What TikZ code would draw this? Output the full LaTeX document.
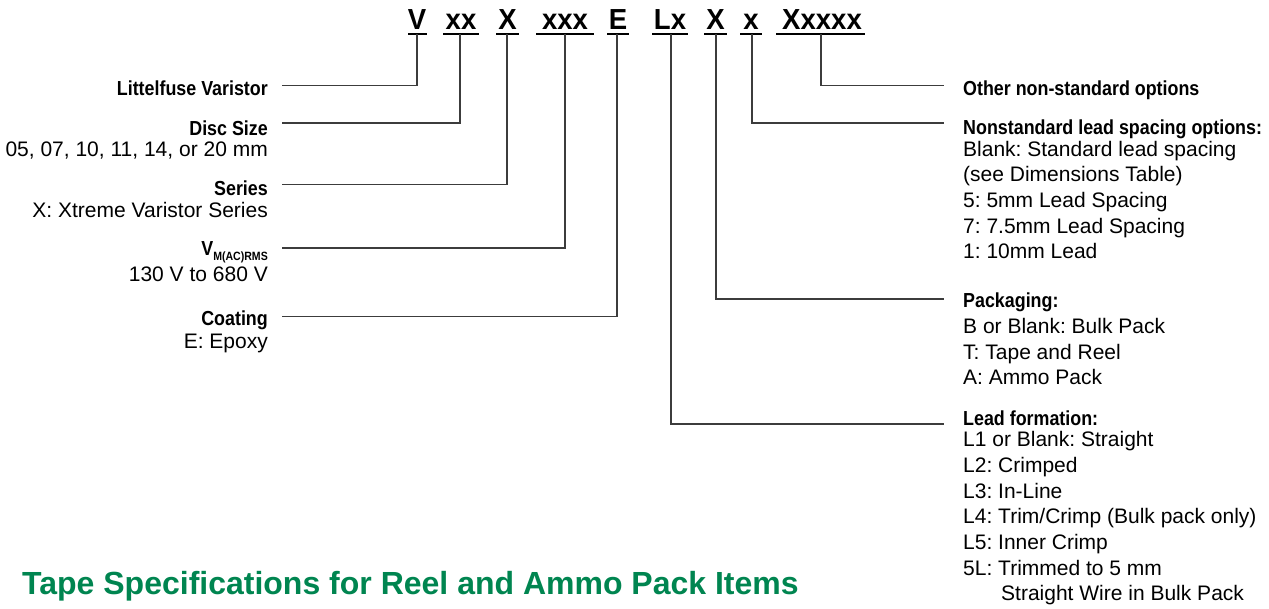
\documentclass[tikz,border=0pt]{standalone}
\usepackage{fontspec}
\setmainfont{Liberation Sans}
\newfontfamily\condb[FakeStretch=0.88]{Liberation Sans Bold}
\newfontfamily\codefont[FakeStretch=0.95]{Liberation Sans Bold}
\newfontfamily\titlefont{Liberation Sans Bold}
\definecolor{lfgreen}{RGB}{0,133,80}
\definecolor{linegray}{RGB}{60,60,60}
\frenchspacing
\tikzset{
  code/.style={font=\codefont\fontsize{29}{29}\selectfont, anchor=base, inner sep=0pt},
  hdl/.style={font=\condb\fontsize{20.3}{24}\selectfont, anchor=base east, inner sep=0pt},
  bdl/.style={font=\fontsize{21}{25}\selectfont, anchor=base east, inner sep=0pt},
  hdr/.style={font=\condb\fontsize{20.3}{24}\selectfont, anchor=base west, inner sep=0pt},
  bdr/.style={font=\fontsize{21}{25}\selectfont, anchor=base west, inner sep=0pt},
  uline/.style={draw=black, line width=1.3pt},
  conn/.style={draw=linegray, line width=1.3pt},
  ttl/.style={font=\titlefont\fontsize{32}{32}\selectfont, text=lfgreen, anchor=base west, inner sep=0pt}
}
\begin{document}
\begin{tikzpicture}[x=1pt,y=-1pt]
\useasboundingbox (0,0) rectangle (1269,608);
% code letters
\node[code] (cV) at (417,29) {V};
\node[code] (cxx) at (461,29) {xx};
\node[code] (cX) at (507.5,29) {X};
\node[code] (cxxx) at (565,29) {xxx};
\node[code] (cE) at (618,29) {E};
\node[code] (cLx) at (670,29) {Lx};
\node[code] (cX2) at (715.5,29) {X};
\node[code] (cx) at (751,29) {x};
\node[code] (cXxxxx) at (822,29) {Xxxxx};
% underlines
\draw[uline] (408,34) -- (427,34);
\draw[uline] (443,34) -- (479,34);
\draw[uline] (496,34) -- (519,34);
\draw[uline] (536,34) -- (594,34);
\draw[uline] (607,34) -- (629,34);
\draw[uline] (652,34) -- (688,34);
\draw[uline] (704,34) -- (727,34);
\draw[uline] (740,34) -- (762,34);
\draw[uline] (776,34) -- (865,34);
\coordinate (uV) at (417,34);
\coordinate (uxx) at (460,34);
\coordinate (uX) at (507,34);
\coordinate (uxxx) at (565,34);
\coordinate (uE) at (617,34);
\coordinate (uLx) at (671,34);
\coordinate (uX2) at (716,34);
\coordinate (ux) at (752,34);
\coordinate (uXxxxx) at (821,34);
% line ends
\coordinate (eV) at (282,85.3);
\coordinate (exx) at (282,123);
\coordinate (eX) at (282,184.3);
\coordinate (exxx) at (282,248);
\coordinate (eE) at (282,316.7);
\coordinate (eXxxxx) at (944,85.3);
\coordinate (ex) at (944,123);
\coordinate (eX2) at (944,299);
\coordinate (eLx) at (944,424);
% connectors
\draw[conn] (uV) |- (eV);
\draw[conn] (uxx) |- (exx);
\draw[conn] (uX) |- (eX);
\draw[conn] (uxxx) |- (exxx);
\draw[conn] (uE) |- (eE);
\draw[conn] (uXxxxx) |- (eXxxxx);
\draw[conn] (ux) |- (ex);
\draw[conn] (uX2) |- (eX2);
\draw[conn] (uLx) |- (eLx);
% left labels
\node[hdl] (lV) at (268,95) {Littelfuse Varistor};
\node[hdl] (lxx) at (268,135.5) {Disc Size};
\node[bdl] (lxxb) at (268,156) {05, 07, 10, 11, 14, or 20 mm};
\node[hdl] (lX) at (268,195.5) {Series};
\node[bdl] (lXb) at (268,217) {X: Xtreme Varistor Series};
\node[hdl] (lxxx) at (268,255.5) {V\raisebox{-5pt}{\fontsize{12}{12}\selectfont M(AC)RMS}};
\node[bdl] (lxxxb) at (268,281) {130 V to 680 V};
\node[hdl] (lE) at (268,325) {Coating};
\node[bdl] (lEb) at (268,348.5) {E: Epoxy};
% right labels
\node[hdr] (rXxxxx) at (963,95) {Other non-standard options};
\node[hdr] (rx) at (963,134) {Nonstandard lead spacing options:};
\node[bdr] (rx1) at (963,156) {Blank: Standard lead spacing};
\node[bdr] (rx2) at (963,181.7) {(see Dimensions Table)};
\node[bdr] (rx3) at (963,207.4) {5: 5mm Lead Spacing};
\node[bdr] (rx4) at (963,233.1) {7: 7.5mm Lead Spacing};
\node[bdr] (rx5) at (963,258.8) {1: 10mm Lead};
\node[hdr] (rX2) at (963,307.5) {Packaging:};
\node[bdr] (rX21) at (963,333.5) {B or Blank: Bulk Pack};
\node[bdr] (rX22) at (963,359.2) {T: Tape and Reel};
\node[bdr] (rX23) at (963,384.9) {A: Ammo Pack};
\node[hdr] (rLx) at (963,425.5) {Lead formation:};
\node[bdr] (rLx1) at (963,446.7) {L1 or Blank: Straight};
\node[bdr] (rLx2) at (963,472.4) {L2: Crimped};
\node[bdr] (rLx3) at (963,498.1) {L3: In-Line};
\node[bdr] (rLx4) at (963,523.8) {L4: Trim/Crimp (Bulk pack only)};
\node[bdr] (rLx5) at (963,549.5) {L5: Inner Crimp};
\node[bdr] (rLx6) at (963,575.2) {5L: Trimmed to 5 mm};
\node[bdr] (rLx7) at (1001,600.9) {Straight Wire in Bulk Pack};
% title
\node[ttl] (title) at (22,594) {Tape Specifications for Reel and Ammo Pack Items};
\end{tikzpicture}
\end{document}
